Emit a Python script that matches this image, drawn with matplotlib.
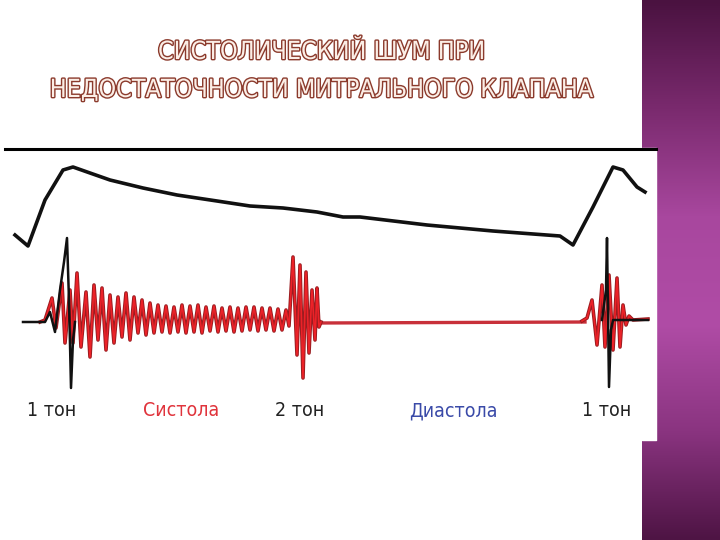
import numpy as np
import matplotlib
matplotlib.use('Agg')
import matplotlib.pyplot as plt
import matplotlib.patheffects as pe
from matplotlib.colors import LinearSegmentedColormap

# заголовок слайда
title_lines = ['СИСТОЛИЧЕСКИЙ ШУМ ПРИ', 'НЕДОСТАТОЧНОСТИ МИТРАЛЬНОГО КЛАПАНА']

# подписи под фонокардиограммой
label_text = ['1 тон', 'Систола', '2 тон', 'Диастола', '1 тон']
label_x = [52, 181, 300, 453, 607]
label_col = ['#222222', '#e0343c', '#222222', '#3a4aa8', '#222222']

# кривая давления (чёрная, сверху)
pulse_x = [15, 28, 45, 63, 73, 90, 110, 143, 177, 217, 250, 283, 317, 343, 360,
           427, 493, 560, 573, 593, 613, 623, 637, 645]
pulse_y = [235, 246, 200, 170, 167, 173, 180, 188, 195, 201, 206, 208, 212, 217, 217,
           225, 231, 236, 245, 207, 167, 170, 187, 192]

# систолический шум + 2 тон (красный)
murmur_x = [40, 45, 52, 56, 62, 65, 70, 73, 77, 81, 86, 90, 94, 98, 102, 106, 110, 114,
            118, 122, 126, 130, 134, 138, 142, 146, 150, 154, 158, 162, 166, 170, 174,
            178, 182, 186, 190, 194, 198, 202, 206, 210, 214, 218, 222, 226, 230, 234,
            238, 242, 246, 250, 254, 258, 262, 266, 270, 274, 278, 282, 286, 289, 293,
            297, 300, 303, 306, 309, 312, 315, 317, 319, 321]
murmur_y = [322, 320, 298, 328, 283, 343, 290, 343, 273, 347, 292, 357, 285, 340, 288,
            350, 295, 343, 297, 337, 293, 340, 297, 333, 300, 335, 303, 333, 305, 332,
            306, 333, 307, 332, 305, 333, 306, 332, 305, 333, 307, 331, 306, 332, 308,
            331, 307, 332, 308, 331, 307, 330, 307, 331, 308, 330, 308, 331, 309, 330,
            310, 326, 257, 355, 265, 378, 272, 353, 290, 340, 288, 327, 322]

# диастола - прямая
diast_x = [318, 585]
diast_y = [323, 322]

# 1 тон справа (красный)
s1r_x = [582, 587, 592, 597, 602, 605, 609, 613, 617, 620, 623, 626, 629, 633, 648]
s1r_y = [321, 318, 300, 345, 285, 347, 275, 350, 278, 347, 305, 325, 316, 320, 319]

# чёрные пики 1 тона
blk_left_x = [23, 45, 50, 55, 60, 64, 67, 69, 71, 73, 75]
blk_left_y = [322, 322, 312, 332, 290, 262, 238, 300, 388, 340, 322]
blk_right_x = [602, 606, 607, 609, 611, 613, 630, 648]
blk_right_y = [320, 290, 238, 387, 330, 320, 320, 320]

fig = plt.figure(figsize=(7.2, 5.4), dpi=100)
ax = fig.add_axes([0, 0, 1, 1])
ax.set_xlim(0, 720)
ax.set_ylim(540, 0)
ax.axis('off')

# фиолетовая полоса справа
cmap = LinearSegmentedColormap.from_list('purp', ['#4a1240', '#7a2a6e', '#a8479e',
                                                  '#b04ca6', '#8a3480', '#4e1444'])
grad = np.linspace(0, 1, 256).reshape(-1, 1)
ax.imshow(grad, cmap=cmap, extent=[642, 720, 540, 0], aspect='auto', zorder=0)
ax.fill_between([642, 656], 148, 440, color='white', zorder=1)

# линия сверху
ax.plot([5, 656], [149, 149], color='black', lw=2.2, zorder=2)

ax.plot(pulse_x, pulse_y, color='#111111', lw=2.6, solid_joinstyle='round', zorder=2)

ax.plot(diast_x, diast_y, color='#c8303a', lw=2.4, zorder=2)
ax.plot(murmur_x, murmur_y, color='#9a1c20', lw=2.6, zorder=3)
ax.plot(murmur_x, murmur_y, color='#ec2228', lw=1.2, zorder=4)
ax.plot(s1r_x, s1r_y, color='#9a1c20', lw=2.6, zorder=3)
ax.plot(s1r_x, s1r_y, color='#ec2228', lw=1.2, zorder=4)
ax.plot(blk_left_x, blk_left_y, color='#111111', lw=1.8, zorder=5)
ax.plot(blk_right_x, blk_right_y, color='#111111', lw=1.8, zorder=5)

for t, x, c in zip(label_text, label_x, label_col):
    ax.text(x, 411, t, color=c, fontsize=14, ha='center', va='center',
            family='DejaVu Sans', stretch='condensed', zorder=6)

for i, line in enumerate(title_lines):
    ax.text(322, 52 + i * 38, line, fontsize=18, ha='center', va='center',
            color='#fbeee6', family='DejaVu Sans', stretch='condensed',
            path_effects=[pe.withStroke(linewidth=2, foreground='#8b3a2c')], zorder=6)

fig.savefig('out.png', dpi=100)
